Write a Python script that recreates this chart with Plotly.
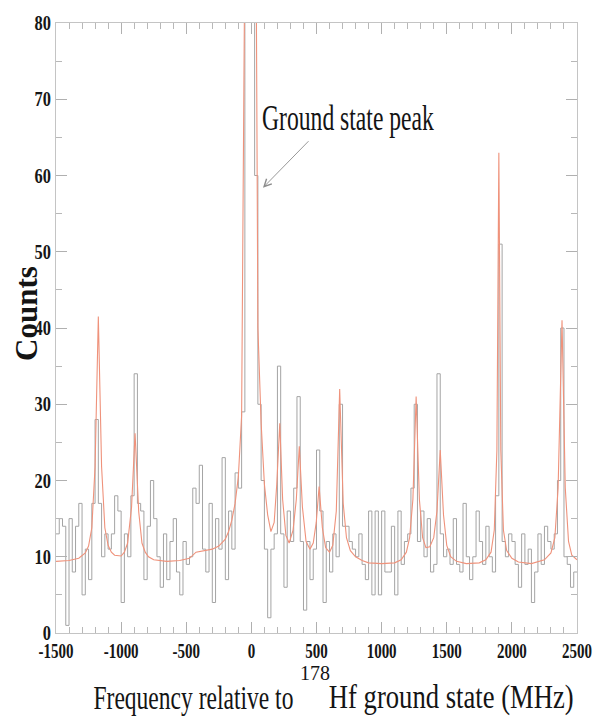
import plotly.graph_objects as go

# ---------------- data ----------------
bin_start = -1500          # MHz, left edge of first bin
bin_width = 25             # MHz
counts = [
    13, 15, 14, 1, 15, 8, 14, 17, 5, 11,
    7, 17, 28, 17, 10, 13, 11, 13, 18, 16,
    4, 13, 10, 18, 34, 17, 16, 7, 14, 20,
    15, 10, 6, 13, 7, 12, 15, 8, 5, 12,
    9, 10, 19, 17, 22, 11, 8, 17, 4, 15,
    11, 23, 7, 16, 11, 21, 19, 29, 88, 100,
    95, 60, 30, 20, 11, 2, 11, 13, 35, 13,
    6, 16, 12, 19, 31, 12, 3, 12, 7, 11,
    24, 16, 4, 12, 8, 13, 10, 30, 14, 14,
    12, 11, 10, 13, 9, 7, 16, 5, 16, 5,
    16, 8, 8, 14, 5, 16, 9, 12, 13, 19,
    30, 12, 16, 10, 15, 8, 9, 34, 13, 10,
    11, 9, 15, 9, 8, 17, 10, 7, 10, 16,
    12, 9, 14, 10, 8, 18, 51, 12, 10, 13,
    12, 9, 6, 13, 9, 11, 4, 8, 13, 9,
    14, 12, 11, 13, 20, 40, 10, 9, 6, 8,
]

fit_x = [-1500, -1400, -1325, -1275, -1250, -1225, -1200, -1175, -1150, -1125,
         -1100, -1075, -1050, -1000, -975, -950, -920, -893, -865, -840,
         -815, -790, -750, -650, -550, -475, -425, -350, -300, -250,
         -200, -175, -150, -125, -100, -75, -50, -25, 0, 25,
         50, 75, 100, 125, 150, 175, 195, 218, 240, 265,
         290, 320, 345, 368, 392, 420, 450, 475, 498, 520,
         545, 570, 600, 625, 652, 678, 705, 730, 760, 800,
         850, 900, 1000, 1100, 1150, 1190, 1215, 1240, 1265, 1290,
         1315, 1340, 1370, 1400, 1425, 1450, 1475, 1500, 1530, 1575,
         1650, 1750, 1800, 1840, 1865, 1885, 1900, 1915, 1935, 1960,
         2000, 2050, 2150, 2250, 2300, 2330, 2355, 2385, 2410, 2435,
         2460, 2500]
fit_y = [9.4, 9.5, 9.8, 10.5, 11.4, 13.8, 21.8, 41.5, 21.8, 13.8,
         11.5, 10.6, 10.2, 10.1, 10.6, 11.8, 16.5, 26.2, 15.9, 11.8,
         10.6, 10.0, 9.6, 9.4, 9.5, 9.8, 10.6, 10.8, 11.0, 11.4,
         12.3, 13.3, 14.8, 17.0, 20.5, 28.5, 90, 130, 140, 130,
         40, 27.5, 19.5, 15.5, 13.3, 14.5, 19.5, 27.5, 17.5, 12.8,
         11.8, 13.5, 17.5, 24.5, 16.5, 12.0, 11.0, 11.8, 14.5, 19.2,
         13.8, 11.2, 10.6, 11.5, 16.0, 32.0, 17.0, 12.5, 10.8, 10.0,
         9.5, 9.2, 9.1, 9.2, 9.6, 10.6, 12.5, 17.5, 31.0, 17.5,
         12.5, 11.2, 11.3, 12.5, 16.0, 24.0, 15.5, 11.5, 10.0, 9.4,
         9.1, 9.2, 9.6, 10.6, 13.5, 24.0, 63.0, 24.0, 13.5, 10.8,
         9.8, 9.3, 9.1, 9.6, 10.5, 12.5, 19.0, 41.0, 19.0, 12.0,
         10.2, 9.6]

x_tickvals = [-1500, -1000, -500, 0, 500, 1000, 1500, 2000, 2500]
x_ticktext = ["-1500", "-1000", "-500", "0", "500", "1000", "1500", "2000", "2500"]
y_tickvals = [0, 10, 20, 30, 40, 50, 60, 70, 80]

peak_label = "Ground state peak"
peak_arrow_tip = (89, 58.4)   # MHz, counts
x_title_parts = ["Frequency relative to", "178", "Hf ground state (MHz)"]
y_title = "Counts"

# ---------------- figure ----------------
edges = [bin_start + bin_width * i for i in range(len(counts) + 1)]
steps = counts + [counts[-1]]

fig = go.Figure()
fig.add_trace(go.Scatter(x=edges, y=steps, mode="lines", line_shape="hv",
                         line=dict(color="#a4a4a4", width=1), showlegend=False,
                         hoverinfo="skip"))
fig.add_trace(go.Scatter(x=fit_x, y=fit_y, mode="lines",
                         line=dict(color="#ef927b", width=1.1), showlegend=False,
                         hoverinfo="skip"))

axis_common = dict(showline=True, linecolor="#c4c4c4", linewidth=1, mirror="allticks",
                   ticks="inside", tickcolor="#b0b0b0", ticklen=11, tickwidth=1,
                   showgrid=False, zeroline=False, automargin=False,
                   tickfont=dict(family="Liberation Serif", size=20, color="#161616",
                                 weight="bold"))

serif = "Liberation Serif"
fig.update_layout(
    width=598, height=717,
    margin=dict(l=56, r=21, t=23, b=84),
    paper_bgcolor="white", plot_bgcolor="white",
    xaxis=dict(range=[-1500, 2500], tickvals=x_tickvals, ticktext=x_ticktext,
               minor=dict(dtick=100, tick0=-1500, ticks="inside", ticklen=6,
                          tickcolor="#b8b8b8", showgrid=False),
               **axis_common),
    yaxis=dict(range=[0, 80], tickvals=y_tickvals,
               minor=dict(dtick=5, tick0=0, ticks="inside", ticklen=6,
                          tickcolor="#b8b8b8", showgrid=False),
               **axis_common),
    annotations=[
        dict(x=742, y=67.5, xref="x", yref="y", text=peak_label, showarrow=False,
             xanchor="center", yanchor="middle",
             font=dict(family=serif, size=36, color="#141414")),
        dict(x=peak_arrow_tip[0], y=peak_arrow_tip[1], xref="x", yref="y", text="",
             showarrow=True, ax=47, ay=-48, arrowcolor="#8c8c8c", arrowwidth=0.9,
             arrowhead=5, arrowsize=1.6),
        dict(x=0.263, y=-0.139, xref="paper", yref="paper", text=x_title_parts[0],
             showarrow=False, xanchor="center", yanchor="bottom",
             font=dict(family=serif, size=34, color="#141414")),
        dict(x=0.497, y=-0.066, xref="paper", yref="paper", text=x_title_parts[1],
             showarrow=False, xanchor="center", yanchor="middle",
             font=dict(family=serif, size=20, color="#141414")),
        dict(x=0.760, y=-0.139, xref="paper", yref="paper", text=x_title_parts[2],
             showarrow=False, xanchor="center", yanchor="bottom",
             font=dict(family=serif, size=34, color="#141414")),
        dict(x=-0.0557, y=0.5246, xref="paper", yref="paper", text=y_title, showarrow=False,
             textangle=-90, xanchor="center", yanchor="middle",
             font=dict(family=serif, size=31, color="#141414", weight="bold")),
    ],
)

post = r"""
(function(){
document.body.style.margin = '0';
document.body.style.padding = '0';
var gd = document.getElementById('{plot_id}');
var widths = {'Ground state peak': 172, 'Frequency relative to': 200,
              '178': 30, 'Hf ground state (MHz)': 245};
function squash(t, s){
  var tr = t.getAttribute('transform') || '';
  if (tr.indexOf('scale(') >= 0) return;
  var b = t.getBBox();
  if (!b.width) return;
  if (s === null) {
    var w = widths[t.textContent];
    if (!w) return;
    s = w / b.width;
  }
  var a = t.getAttribute('text-anchor') || 'start';
  var px = a === 'end' ? b.x + b.width : (a === 'middle' ? b.x + b.width/2 : b.x);
  t.setAttribute('transform', tr + ' translate(' + px + ',0) scale(' + s + ',1) translate(' + (-px) + ',0)');
}
function sq(){
  if(!gd) return;
  gd.querySelectorAll('.xtick text').forEach(function(t){ squash(t, 0.75); });
  gd.querySelectorAll('.ytick text').forEach(function(t){ squash(t, 0.82); });
  gd.querySelectorAll('.annotation-text').forEach(function(t){ squash(t, null); });
}
sq();
setTimeout(sq, 50); setTimeout(sq, 300);
if (gd && gd.on) gd.on('plotly_afterplot', sq);
})();
"""

fig.write_html("out.html", post_script=post, config={"displayModeBar": False})
